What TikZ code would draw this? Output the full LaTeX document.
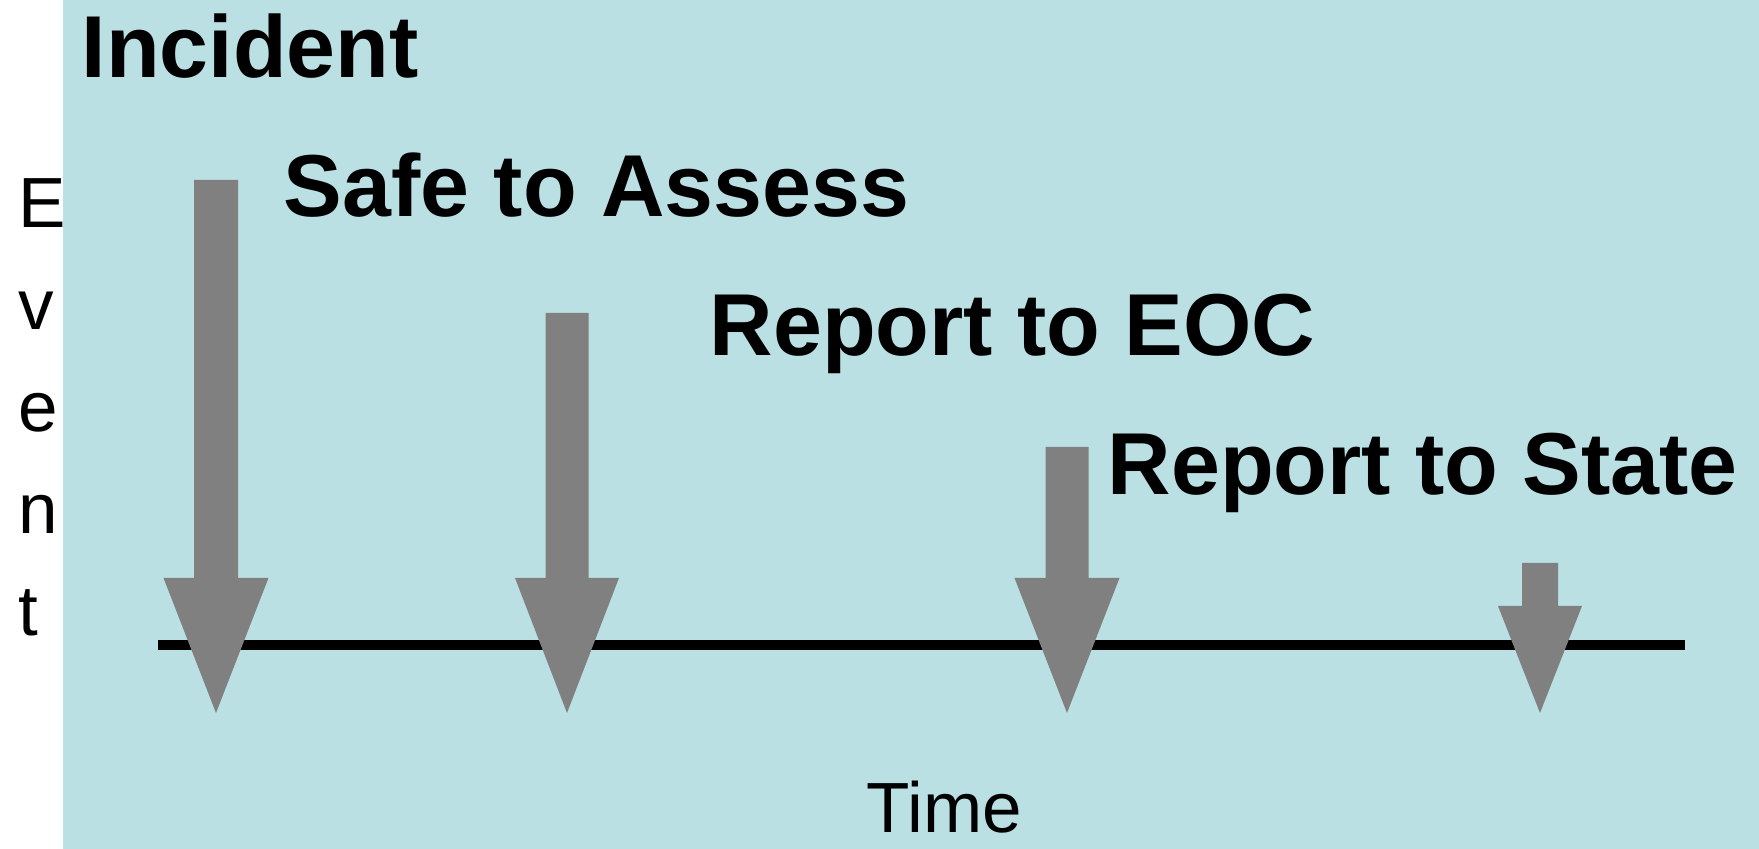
\documentclass[tikz,border=0pt]{standalone}
\usepackage{fontspec}
\setmainfont{Liberation Sans}
\definecolor{bgblue}{RGB}{186,224,228}
\definecolor{arrowgray}{RGB}{128,128,128}
\newcommand{\evtarrow}[6]{%
  \coordinate (#1top) at (#2,#3);
  \coordinate (#1tip) at (#2,713);
  \fill[blockarrow] (#2-#5,#3) -- (#2+#5,#3) -- (#2+#5,#4) -- (#2+#6,#4) -- (#1tip) -- (#2-#6,#4) -- (#2-#5,#4) -- cycle;
}
\begin{document}
\begin{tikzpicture}[x=0.01cm,y=-0.01cm,
  evtlabel/.style={anchor=base west, inner sep=0pt, font=\fontsize{25}{30}\selectfont\bfseries},
  axislabel/.style={anchor=base west, inner sep=0pt, font=\fontsize{20.2}{24}\selectfont},
  blockarrow/.style={fill=arrowgray, draw=none},
  axisline/.style={line width=2.85pt, draw=black}]
\useasboundingbox (0,0) rectangle (1759,849);
\fill[bgblue] (63,0) rectangle (1759,849);
% time axis
\coordinate (axisL) at (158,645);
\coordinate (axisR) at (1685,645);
\draw[axisline] (axisL) -- (axisR);
% event arrows
\evtarrow{a1}{216}{180}{578}{22}{52.5}
\evtarrow{a2}{567}{313}{578}{21.5}{52}
\evtarrow{a3}{1067}{447}{578}{21.5}{52.5}
\evtarrow{a4}{1540}{563}{606}{18}{42}
% labels
\node[evtlabel] (incident) at (81,78) {Incident};
\node[evtlabel] (safe) at (283,217) {Safe to Assess};
\node[evtlabel] (eoc) at (709,356) {Report to EOC};
\node[evtlabel] (state) at (1107,495) {Report to State};
\node[axislabel] (time) at (866,833) {Time};
\node[axislabel] (evE) at (18,228) {E};
\node[axislabel] (evv) at (18,330) {v};
\node[axislabel] (eve) at (18,432) {e};
\node[axislabel] (evn) at (18,534) {n};
\node[axislabel] (evt) at (18,636) {t};
\end{tikzpicture}
\end{document}
